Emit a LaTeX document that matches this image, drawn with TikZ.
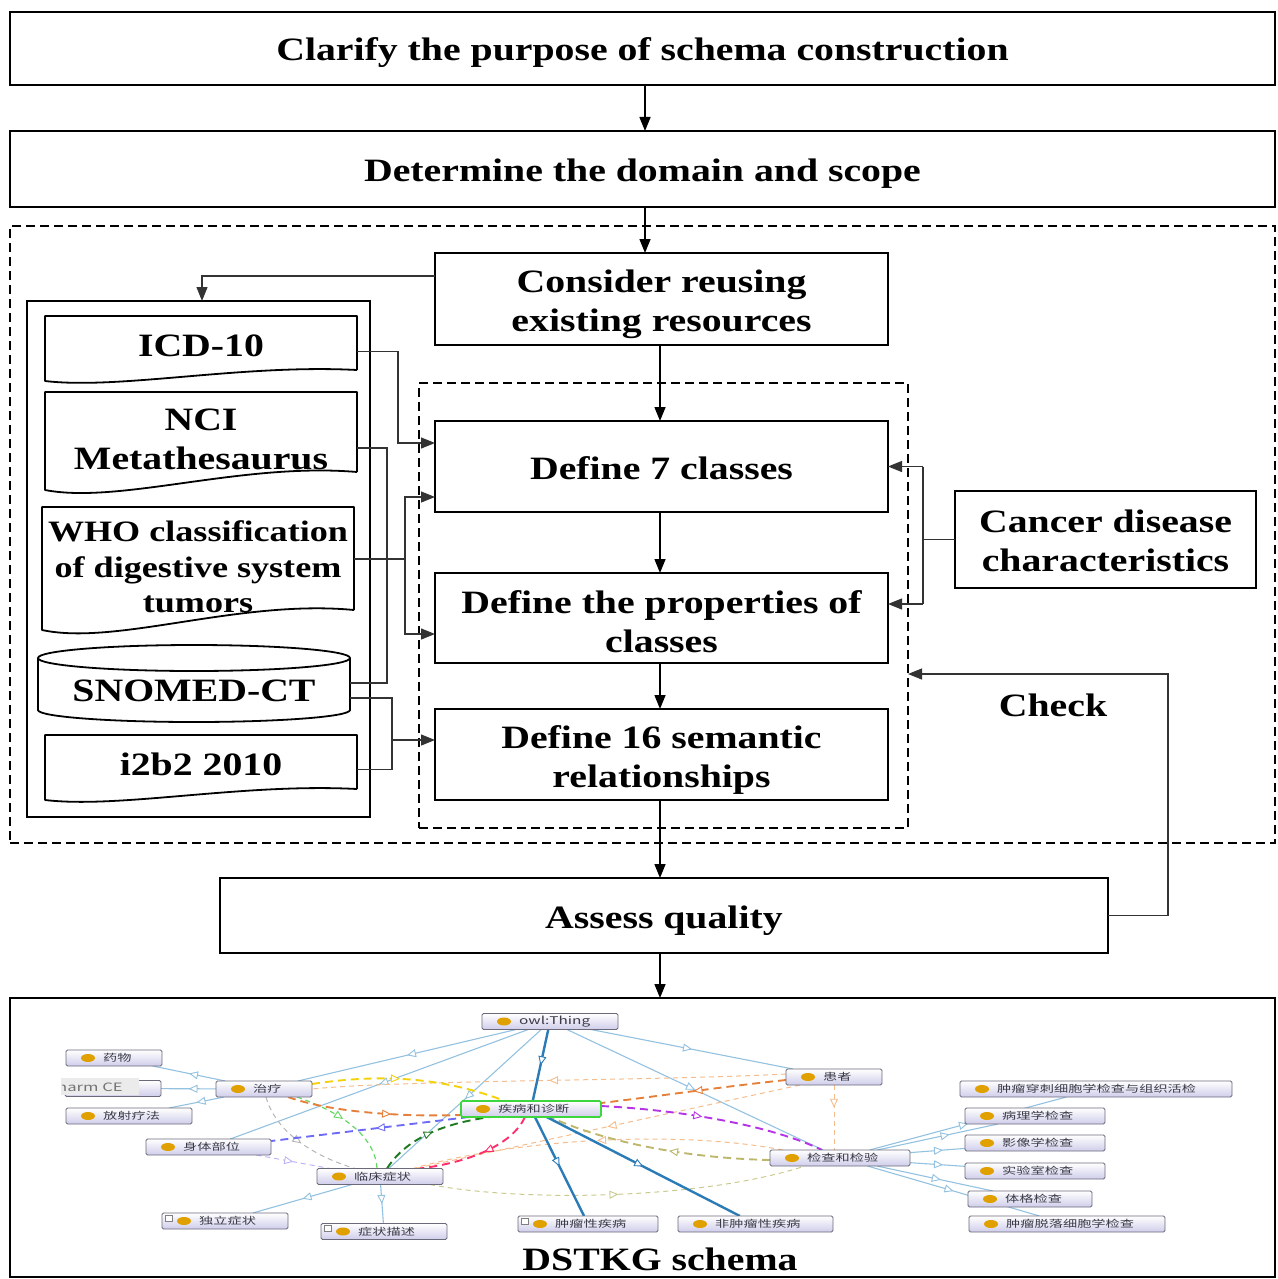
\documentclass[tikz,border=0pt]{standalone}
\usepackage{fontspec}
\setmainfont{Liberation Serif}[FakeStretch=1.22]
\newfontfamily\cjk{Noto Sans CJK SC}[FakeStretch=1.45]
\usetikzlibrary{arrows.meta,decorations.markings}

\definecolor{isablue}{HTML}{93C1E0}
\definecolor{isadark}{HTML}{2B7BB7}
\definecolor{ogborder}{HTML}{6A6A7A}
\definecolor{oglav}{HTML}{CFCDEA}
\definecolor{dotgold}{HTML}{DFA000}
\definecolor{ogtext}{HTML}{3A3A48}
\definecolor{nodegreen}{HTML}{3ED63E}
\definecolor{cyel}{HTML}{F5D10A}
\definecolor{corange}{HTML}{E5803A}
\definecolor{clorange}{HTML}{F5BC8C}
\definecolor{cpurple}{HTML}{B733E8}
\definecolor{colive}{HTML}{BDB76B}
\definecolor{colivel}{HTML}{CACA8E}
\definecolor{cbv}{HTML}{6E6CF6}
\definecolor{clav}{HTML}{BBB5F4}
\definecolor{cgray}{HTML}{B5B5B5}
\definecolor{clgreen}{HTML}{62D862}
\definecolor{cdgreen}{HTML}{1E7A1E}
\definecolor{cpink}{HTML}{FF2D6B}

\newcommand\hdsize{\fontsize{32.6}{39}\selectfont\bfseries}
\newcommand\whosize{\fontsize{29.6}{35.5}\selectfont\bfseries}

% step box: name, cx, cy, width, height, text drop, text
\newcommand\stepnode[7]{%
  \node[stepbox, minimum width=#4, minimum height=#5] (#1) at (#2,#3) {};
  \node[steptext] at ([yshift=-#6pt]#1.center) {#7};
}

% document-shaped outline around a named node (#2 = half of the wave drop, #3 = width)
\newcommand\docoutline[3]{%
  \draw[line width=1.8pt, line join=round]
    ([yshift=#2pt]#1.south east) -- (#1.north east) -- (#1.north west)
    -- ([yshift=-#2pt]#1.south west)
    .. controls +(0.24*#3,1.6*#2) and +(-0.37*#3,-1.1*#2) .. ([yshift=#2pt]#1.south east);
}

% ontology class box: name, cx, cy, width, label, extra style
\newcommand\ogbox[6]{%
  \node[ogn, minimum width=#4, #6] (#1) at (#2,#3) {};
  \fill[dotgold] ([xshift=22pt]#1.west) ellipse [x radius=7pt, y radius=4pt];
  \node[ogtxt] at ([xshift=37pt]#1.west) {#5};
}
\newcommand\ogplus[1]{%
  \draw[draw=gray, fill=white, line width=0.5pt]
    ([xshift=3pt,yshift=-2pt]#1.north west) rectangle ([xshift=10pt,yshift=-8pt]#1.north west);
}

\begin{document}
\begin{tikzpicture}[x=1pt,y=-1pt,
  stepbox/.style={draw, line width=1.8pt, fill=white, inner sep=0, outer sep=0},
  steptext/.style={inner sep=0, outer sep=0, align=center, font=\hdsize},
  docframe/.style={inner sep=0, outer sep=0},
  frame/.style={draw, line width=1.8pt, dash pattern=on 9pt off 5pt, inner sep=0, outer sep=0},
  flow/.style={line width=1.5pt, -{Triangle[length=14pt,width=11pt]}},
  feed/.style={line width=1.2pt, draw=black!80},
  feedarr/.style={feed, -{Triangle[length=14pt,width=11pt]}},
  ogn/.style={rectangle, rounded corners=1.5pt, draw=ogborder, line width=0.9pt,
    top color=white, bottom color=oglav, minimum height=16, inner sep=0, outer sep=0},
  ogtxt/.style={anchor=west, inner sep=0, font=\cjk\fontsize{9.8}{10}\selectfont, text=ogtext},
  isa/.style={draw=isablue, line width=1.1pt},
  isathick/.style={draw=isadark, line width=2.4pt},
  tri/.style={postaction={decorate}, decoration={markings,
    mark=at position #1 with {\arrow{Triangle[fill=white,length=9pt,width=8pt,line width=0.9pt]}}}},
  dthick/.style={line width=1.9pt, dash pattern=on 8pt off 5pt},
  dthin/.style={line width=1pt, dash pattern=on 5pt off 4pt}
]
\useasboundingbox (0,0) rectangle (1277,1279);

% ---------- dashed stage frames ----------
\node[frame, minimum width=1265, minimum height=617] (stage) at (642.5,534.5) {};
\node[frame, minimum width=489, minimum height=445] (core) at (663.5,605.5) {};

% ---------- main steps ----------
\stepnode{clarify}{642.5}{48.5}{1265}{73}{4.5}{Clarify the purpose of schema construction}
\stepnode{domain}{642.5}{169}{1265}{76}{5}{Determine the domain and scope}
\stepnode{consider}{661.5}{299}{453}{92}{5}{Consider reusing\\existing resources}
\stepnode{cls7}{661.5}{466.5}{453}{91}{2}{Define 7 classes}
\stepnode{props}{661.5}{618}{453}{90}{4}{Define the properties of\\classes}
\stepnode{rel16}{661.5}{754.5}{453}{91}{5.5}{Define 16 semantic\\relationships}
\stepnode{cancer}{1105.5}{539.5}{301}{97}{1}{Cancer disease\\characteristics}
\stepnode{assess}{664}{915.5}{888}{75}{5}{Assess quality}
\node[steptext] (check) at (1053,705) {Check};

% ---------- existing resources ----------
\node[draw, line width=1.8pt, minimum width=343, minimum height=516, inner sep=0, outer sep=0] (res) at (198.5,559) {};
\node[docframe, minimum width=312, minimum height=59.5] (icd) at (201,345.75) {};
\node[steptext] at (icd.center) {ICD-10};
\docoutline{icd}{5.5}{312}
\node[docframe, minimum width=312, minimum height=89] (nci) at (201,436.5) {};
\node[steptext] at ([yshift=-2.5pt]nci.center) {NCI\\Metathesaurus};
\docoutline{nci}{9}{312}
\node[docframe, minimum width=312, minimum height=113] (who) at (198,563.5) {};
\node[steptext, font=\whosize] at ([yshift=-3.5pt]who.center) {WHO classification\\of digestive system\\tumors};
\docoutline{who}{10}{312}
\node[docframe, minimum width=312, minimum height=59.5] (i2b2) at (201,764.75) {};
\node[steptext] at (i2b2.center) {i2b2 2010};
\docoutline{i2b2}{5.5}{312}
\draw[line width=1.8pt] (38,658) -- (38,710) arc[start angle=180, end angle=360, x radius=156pt, y radius=12pt] -- (350,658);
\draw[line width=1.8pt] (194,658) ellipse [x radius=156pt, y radius=13pt];
\node[docframe, minimum width=312, minimum height=40] (snomed) at (194,690) {};
\node[steptext] at ([yshift=-1pt]snomed.center) {SNOMED-CT};

% ---------- flow arrows ----------
\draw[flow] ([xshift=2.5pt]clarify.south) -- ([xshift=2.5pt]clarify.south |- domain.north);
\draw[flow] ([xshift=2.5pt]domain.south) -- ([xshift=2.5pt]domain.south |- consider.north);
\draw[flow] ([xshift=-1.5pt]consider.south) -- ([xshift=-1.5pt]cls7.north);
\draw[flow] ([xshift=-1.5pt]cls7.south) -- ([xshift=-1.5pt]props.north);
\draw[flow] ([xshift=-1.5pt]props.south) -- ([xshift=-1.5pt]rel16.north);
\draw[flow] ([xshift=-1.5pt]rel16.south) -- ([xshift=-1.5pt]rel16.south |- assess.north);
\draw[flow] ([xshift=-1.5pt]rel16.south |- assess.south) -- ([xshift=-1.5pt]rel16.south |- 0,998);
\draw[feedarr] ([yshift=23pt]consider.west) -| ([xshift=3.5pt]res.north);

% resources feeding the class / property / relation steps
\draw[feedarr] ([yshift=-6pt]icd.east) -- ++(41,0) |- ([yshift=23.5pt]cls7.west);
\draw[feed] ([yshift=-11.5pt]nci.east) -- ++(30,0) |- ([yshift=7pt]snomed.east);
\draw[feed] ([yshift=4.5pt]who.east) -- ++(51,0) coordinate (wj);
\draw[feedarr] (wj) |- ([yshift=-30.5pt]cls7.west);
\draw[feedarr] (wj) |- ([yshift=-16pt]props.west);
\draw[feed] ([yshift=-8pt]snomed.east) -- ++(42,0) coordinate (sj) |- ([yshift=-5pt]i2b2.east);
\coordinate (r16in) at ([yshift=14.5pt]rel16.west);
\draw[feedarr] (sj |- r16in) -- (r16in);

% cancer characteristics
\draw[feed] (cancer.west) -- ++(-32,0) coordinate (cj);
\coordinate (p14) at ([yshift=14pt]props.east);
\draw[feed] (cj |- cls7.east) -- (cj |- p14);
\draw[feedarr] (cj |- cls7.east) -- (cls7.east);
\draw[feedarr] (cj |- p14) -- (p14);

% quality check loop
\coordinate (chk) at (1168,674);
\draw[feedarr] (assess.east) -| (chk) -- (chk -| core.east);

% ---------- schema panel ----------
\node[draw, line width=1.8pt, minimum width=1265, minimum height=279, inner sep=0, outer sep=0] (schema) at (642.5,1137.5) {};
\node[steptext] (schemacap) at (660,1259) {DSTKG schema};

% class geometry (anchors for the links; boxes are drawn over the links below)
\path[every node/.style={minimum height=16, inner sep=0, outer sep=0, rectangle}]
  (550,1021.5) node[minimum width=136] (thing) {}
  (114,1058) node[minimum width=96] (yaowu) {}
  (113,1088.5) node[minimum width=96] (pharm) {}
  (129,1116) node[minimum width=126] (fangshe) {}
  (264,1089) node[minimum width=96] (zhiliao) {}
  (208.5,1147) node[minimum width=125] (shenti) {}
  (531,1109) node[minimum width=140] (jibing) {}
  (380,1176.5) node[minimum width=126] (linchuang) {}
  (225,1221) node[minimum width=126] (duli) {}
  (384,1231.5) node[minimum width=126] (miaoshu) {}
  (588,1224) node[minimum width=140] (zhongliu) {}
  (755.5,1224) node[minimum width=155] (feizhongliu) {}
  (834,1077) node[minimum width=96] (huanzhe) {}
  (840,1158) node[minimum width=140] (jiancha) {}
  (1096,1089) node[minimum width=272] (chuanci) {}
  (1035,1116) node[minimum width=140] (bingli) {}
  (1035,1143) node[minimum width=140] (yingxiang) {}
  (1035,1171) node[minimum width=140] (shiyan) {}
  (1030,1199) node[minimum width=124] (tige) {}
  (1067,1224) node[minimum width=196] (tuoluo) {};

% subclass links
\draw[isa, tri=0.5] (thing) -- (zhiliao);
\draw[isa, tri=0.5] (thing) -- (shenti);
\draw[isa, tri=0.5] (thing) -- (linchuang);
\draw[isa, tri=0.5] (thing) -- (jiancha);
\draw[isa, tri=0.5] (thing) -- (huanzhe);
\draw[isa, tri=0.5] (zhiliao) -- (yaowu);
\draw[isa, tri=0.5] (zhiliao) -- (pharm);
\draw[isa, tri=0.5] (zhiliao) -- (fangshe);
\draw[isa, tri=0.5] (linchuang) -- (duli);
\draw[isa, tri=0.5] (linchuang) -- (miaoshu);
\draw[isa, tri=0.5] (jiancha) -- (chuanci);
\draw[isa, tri=0.6] (jiancha) -- (bingli);
\draw[isa, tri=0.6] (jiancha) -- (yingxiang);
\draw[isa, tri=0.6] (jiancha) -- (shiyan);
\draw[isa, tri=0.55] (jiancha) -- (tige);
\draw[isa, tri=0.5] (jiancha) -- (tuoluo);

% object-property links
\draw[clorange, dthin, tri=0.5] ([yshift=3pt]huanzhe.west) .. controls (650,1081) and (400,1080) .. (zhiliao.east);
\draw[clorange, dthin, tri=0.5] ([xshift=-34pt]huanzhe.south) -- ([xshift=35pt]linchuang.north);
\draw[clorange, dthin, tri=0.5] ([xshift=-57pt]jiancha.north) .. controls (680,1130) and (520,1138) .. ([xshift=33pt]linchuang.north);
\draw[clorange, dthin, tri=0.35] (huanzhe.south) -- (huanzhe.south |- jiancha.north);
\draw[colivel, dthin, tri=0.5] ([xshift=50pt]linchuang.south) .. controls (520,1202) and (700,1200) .. ([xshift=-35pt]jiancha.south);
\draw[clav, dthin, tri=0.5] ([xshift=48pt]shenti.south) -- ([xshift=-50pt]linchuang.north);
\draw[cgray, dthin, tri=0.5] ([xshift=2pt]zhiliao.south) .. controls (275,1130) and (310,1155) .. ([xshift=-25pt]linchuang.north);
\draw[clgreen, dthin, line width=1.2pt, tri=0.45] ([xshift=33pt]zhiliao.south) .. controls (340,1112) and (375,1135) .. ([xshift=-3pt]linchuang.north);
\draw[cyel, dthick, tri=0.45] ([yshift=5pt]zhiliao.east) .. controls (390,1072) and (450,1080) .. ([xshift=-26pt]jibing.north);
\draw[corange, dthick, tri=0.6] ([xshift=24pt]zhiliao.south) .. controls (330,1112) and (400,1117) .. ([yshift=-6pt]jibing.west);
\draw[corange, dthick, tri=0.5] ([yshift=-3pt]huanzhe.west) .. controls (720,1087) and (660,1096) .. ([yshift=6pt]jibing.east);
\draw[cpurple, dthick, tri=0.45] ([yshift=3pt]jibing.east) .. controls (680,1110) and (770,1125) .. ([xshift=-18pt]jiancha.north);
\draw[colive, dthick, tri=0.45] ([yshift=-2pt]jiancha.west) .. controls (680,1158) and (600,1140) .. ([xshift=19pt]jibing.south);
\draw[cbv, dthick, tri=0.47] ([xshift=8pt]jibing.south west) -- ([yshift=6pt]shenti.east);
\draw[cdgreen, dthick, tri=0.5] ([xshift=7pt]linchuang.north) .. controls (405,1140) and (440,1124) .. ([xshift=-41pt]jibing.south);
\draw[cpink, dthick, tri=0.45] ([xshift=-6pt]jibing.south) .. controls (512,1145) and (470,1162) .. ([xshift=40pt]linchuang.north);

% main disease hierarchy
\draw[isathick, tri=0.5] (thing) -- (jibing);
\draw[isathick, tri=0.5] (jibing) -- (zhongliu);
\draw[isathick, tri=0.5] (jibing) -- (feizhongliu);

% class boxes
\ogbox{thing}{550}{1021.5}{136}{\fontsize{10.6}{11}\selectfont owl:Thing}{}
\ogbox{yaowu}{114}{1058}{96}{药物}{}
\ogbox{pharm}{113}{1088.5}{96}{}{}
\ogbox{fangshe}{129}{1116}{126}{放射疗法}{}
\ogbox{zhiliao}{264}{1089}{96}{治疗}{}
\ogbox{shenti}{208.5}{1147}{125}{身体部位}{}
\ogbox{jibing}{531}{1109}{140}{疾病和诊断}{draw=nodegreen, line width=1.6pt}
\ogbox{linchuang}{380}{1176.5}{126}{临床症状}{}
\ogbox{duli}{225}{1221}{126}{独立症状}{}
\ogplus{duli}
\ogbox{miaoshu}{384}{1231.5}{126}{症状描述}{}
\ogplus{miaoshu}
\ogbox{zhongliu}{588}{1224}{140}{肿瘤性疾病}{}
\ogplus{zhongliu}
\ogbox{feizhongliu}{755.5}{1224}{155}{非肿瘤性疾病}{}
\ogbox{huanzhe}{834}{1077}{96}{患者}{}
\ogbox{jiancha}{840}{1158}{140}{检查和检验}{}
\ogbox{chuanci}{1096}{1089}{272}{肿瘤穿刺细胞学检查与组织活检}{}
\ogbox{bingli}{1035}{1116}{140}{病理学检查}{}
\ogbox{yingxiang}{1035}{1143}{140}{影像学检查}{}
\ogbox{shiyan}{1035}{1171}{140}{实验室检查}{}
\ogbox{tige}{1030}{1199}{124}{体格检查}{}
\ogbox{tuoluo}{1067}{1224}{196}{肿瘤脱落细胞学检查}{}

% tooltip overlay on the cut-off class
\fill[black!8] (61,1078) rectangle (139,1095);
\begin{scope}
  \clip (62,1076) rectangle (139,1097);
  \node[anchor=east, inner sep=0, font=\cjk\fontsize{11.5}{12}\selectfont, text=black!55] at (123,1087) {harm CE};
\end{scope}

\end{tikzpicture}
\end{document}
